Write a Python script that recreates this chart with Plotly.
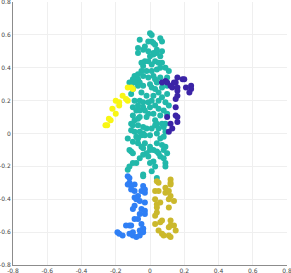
import plotly.graph_objects as go

torso_x = [0.00,0.01,-0.06,-0.01,0.01,0.02,0.06,0.07,-0.03,0.03,-0.07,-0.04,0.07,-0.07,0.02,0.04,0.02,0.00,0.06,
           -0.03,-0.01,0.03,0.07,-0.05,0.01,-0.04,-0.05,-0.02,0.04,0.06,0.09,0.11,0.01,-0.04,0.02,0.10,0.06,
           -0.09,-0.10,-0.07,-0.06,-0.12,-0.09,-0.07,-0.04,0.00,0.03,0.04,0.01,0.03,0.07,0.10,-0.10,-0.11,
           -0.06,-0.04,-0.09,-0.01,0.01,0.05,0.07,0.10,0.09,-0.10,-0.07,-0.04,0.00,0.03,0.05,0.08,0.11,
           -0.08,-0.06,-0.03,-0.01,0.02,0.06,0.10,-0.10,-0.09,-0.07,-0.06,-0.02,0.03,0.04,0.07,0.09,0.08,
           -0.11,-0.10,-0.07,-0.04,-0.02,0.01,0.03,0.05,-0.11,-0.09,-0.06,-0.04,0.00,0.04,0.09,
           -0.08,-0.07,-0.05,-0.03,-0.13,-0.10,-0.07,-0.03,0.00,0.04,0.06,0.08,0.07,0.09,0.02,0.00,-0.04,-0.05,
           -0.12,-0.11,-0.10,-0.02,-0.01,0.04,0.05,0.08,0.10,0.06,0.08,-0.06,-0.08,-0.10,-0.12,-0.13,-0.04,
           0.02,0.00,0.03,0.01,-0.04,-0.04,0.04,0.09,0.09,-0.05,-0.02,0.02,0.05,-0.11,-0.07,-0.01,
           0.04,-0.01,0.05]
torso_y = [0.61,0.60,0.57,0.56,0.56,0.55,0.58,0.56,0.53,0.54,0.52,0.51,0.50,0.49,0.49,0.49,0.48,0.47,0.47,
           0.44,0.44,0.44,0.43,0.43,0.42,0.41,0.38,0.38,0.39,0.40,0.40,0.38,0.38,0.35,0.35,0.34,0.34,
           0.35,0.33,0.33,0.31,0.31,0.31,0.29,0.29,0.30,0.33,0.31,0.28,0.27,0.28,0.29,0.27,0.24,
           0.20,0.19,0.20,0.19,0.20,0.20,0.22,0.24,0.19,0.16,0.17,0.16,0.16,0.17,0.15,0.14,0.17,
           0.14,0.14,0.14,0.12,0.12,0.11,0.12,0.11,0.08,0.09,0.10,0.10,0.08,0.06,0.06,0.06,0.04,
           0.06,0.05,0.05,0.04,0.03,0.03,0.05,0.03,0.02,0.01,0.01,0.00,-0.01,0.00,0.01,
           -0.02,-0.03,-0.01,-0.01,-0.03,-0.05,-0.06,-0.06,-0.08,-0.06,-0.03,-0.02,-0.07,-0.08,-0.10,-0.10,-0.09,-0.08,
           -0.10,-0.11,-0.12,-0.12,-0.14,-0.11,-0.12,-0.10,-0.12,-0.14,-0.15,-0.15,-0.18,-0.18,-0.20,-0.22,-0.13,
           -0.17,-0.18,-0.20,-0.23,-0.25,-0.26,-0.27,-0.18,-0.20,0.25,0.23,0.23,0.25,0.30,0.36,0.34,
           0.51,0.50,0.43]

rarm_x = [0.16,0.19,0.20,0.15,0.14,0.09,0.07,0.10,0.12,0.13,0.16,0.21,0.24,0.24,0.23,0.16,0.16,0.15,
          0.15,0.15,0.16,0.10,0.12,0.16,0.13,0.11]
rarm_y = [0.34,0.33,0.33,0.31,0.31,0.32,0.31,0.31,0.29,0.28,0.28,0.28,0.29,0.27,0.25,0.26,0.23,0.21,
          0.16,0.11,0.10,0.10,0.06,0.07,0.03,0.01]

larm_x = [-0.13,-0.11,-0.10,-0.16,-0.14,-0.13,-0.20,-0.18,-0.18,-0.22,-0.20,-0.24,-0.23,-0.26,-0.25]
larm_y = [0.28,0.28,0.27,0.23,0.21,0.20,0.20,0.19,0.17,0.15,0.12,0.09,0.08,0.05,0.05]

lleg_x = [-0.13,-0.12,-0.12,-0.13,-0.09,-0.11,-0.04,-0.03,-0.05,-0.09,-0.11,-0.03,-0.07,-0.09,-0.08,-0.06,
          -0.03,-0.09,-0.10,-0.05,-0.03,-0.03,-0.06,-0.07,-0.09,-0.12,-0.11,-0.14,-0.05,-0.04,-0.04,-0.06,
          -0.10,-0.12,-0.19,-0.18,-0.16,-0.10,-0.08,-0.06,-0.04]
lleg_y = [-0.26,-0.27,-0.30,-0.31,-0.31,-0.32,-0.32,-0.34,-0.35,-0.35,-0.34,-0.36,-0.38,-0.39,-0.40,-0.41,
          -0.42,-0.44,-0.46,-0.46,-0.47,-0.49,-0.49,-0.52,-0.52,-0.56,-0.56,-0.56,-0.55,-0.58,-0.58,-0.59,
          -0.60,-0.61,-0.60,-0.61,-0.62,-0.62,-0.63,-0.62,-0.60]

rleg_x = [0.04,0.05,0.12,0.12,0.12,0.03,0.05,0.09,0.09,0.11,0.12,0.03,0.06,0.11,0.14,0.04,0.04,0.11,
          0.04,0.03,0.12,0.07,0.06,0.03,0.12,0.14,0.11,0.05,0.07,0.08,0.11,0.12,0.15]
rleg_y = [-0.29,-0.30,-0.28,-0.30,-0.31,-0.35,-0.35,-0.33,-0.36,-0.35,-0.38,-0.40,-0.42,-0.40,-0.41,-0.43,-0.45,-0.45,
          -0.48,-0.50,-0.53,-0.53,-0.54,-0.55,-0.56,-0.56,-0.57,-0.59,-0.61,-0.62,-0.62,-0.63,-0.59]

series = [
    (torso_x, torso_y, "#22b8aa"),
    (rarm_x, rarm_y, "#3b24a6"),
    (larm_x, larm_y, "#f8f614"),
    (lleg_x, lleg_y, "#2f7ff5"),
    (rleg_x, rleg_y, "#cbb82c"),
]

fig = go.Figure()
for xs, ys, c in series:
    fig.add_trace(go.Scatter(x=xs, y=ys, mode="markers",
                             marker=dict(color=c, size=6, line=dict(width=0)),
                             showlegend=False, cliponaxis=False))

ticks = [-0.8, -0.6, -0.4, -0.2, 0, 0.2, 0.4, 0.6, 0.8]
ticktext = ["-0.8", "-0.6", "-0.4", "-0.2", "0", "0.2", "0.4", "0.6", "0.8"]
axis_common = dict(range=[-0.8, 0.8], tickvals=ticks, ticktext=ticktext,
                   showgrid=True, gridcolor="#efefef", gridwidth=1,
                   zeroline=False, showline=True, linecolor="#8c8c8c", linewidth=1,
                   ticks="", tickfont=dict(size=6, color="#444", family="DejaVu Sans"),
                   ticklabeloverflow="allow",
                   automargin=False, mirror=False)
fig.update_layout(template="none")
fig.update_xaxes(**axis_common)
fig.update_yaxes(**axis_common)
fig.update_layout(width=291, height=273, margin=dict(l=13, r=4, t=2, b=8),
                  plot_bgcolor="white", paper_bgcolor="white")
fig.write_html("out.html", config={"displayModeBar": False},
               post_script="document.body.style.margin='0';")
